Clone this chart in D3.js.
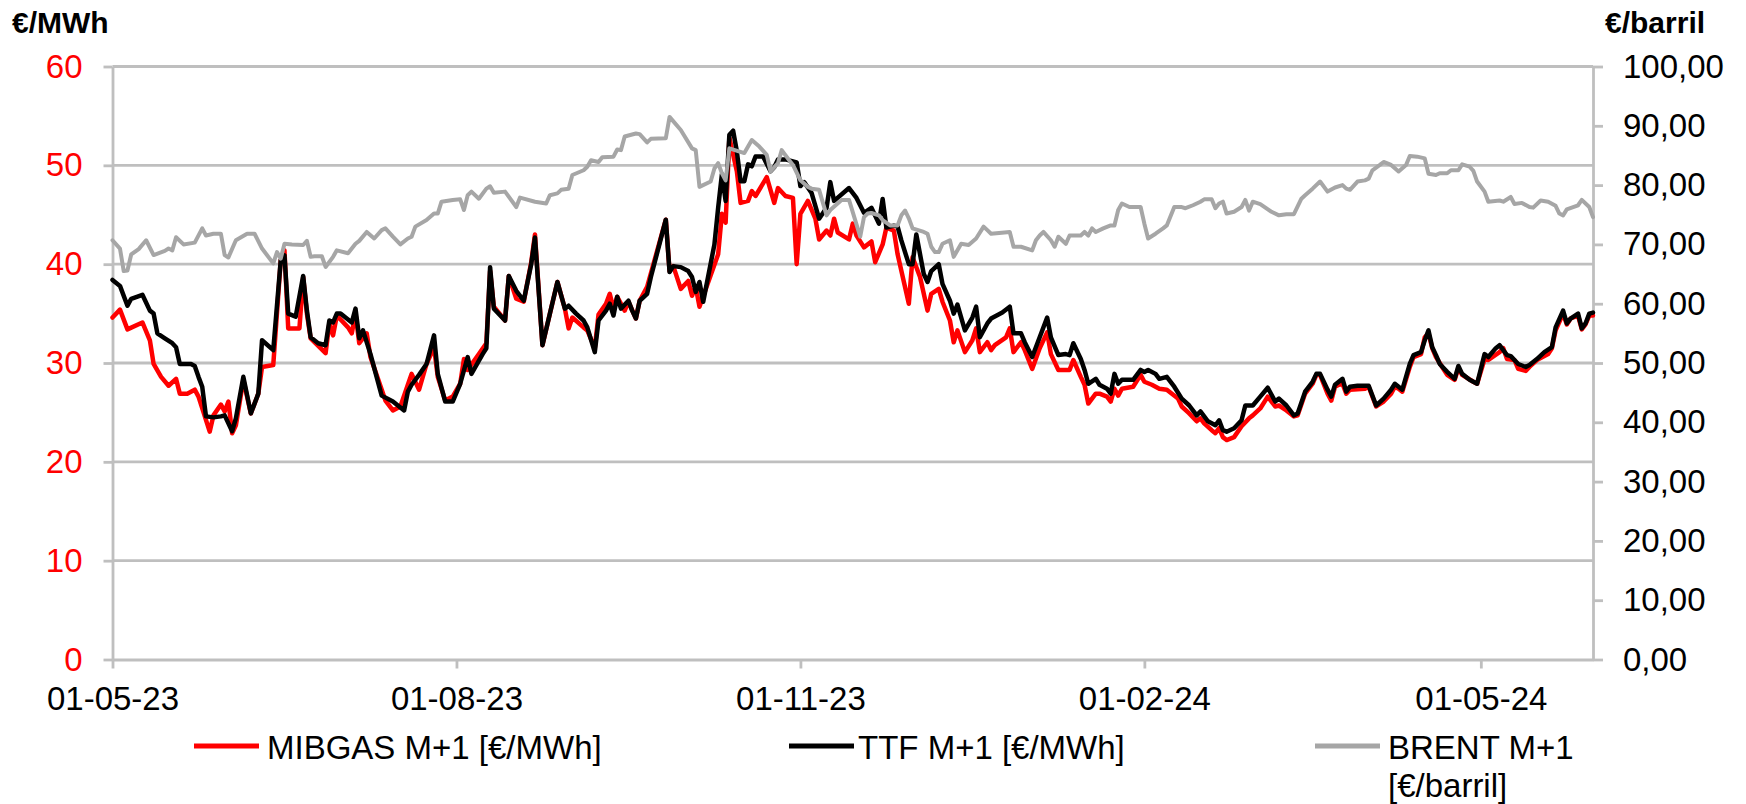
<!DOCTYPE html>
<html><head><meta charset="utf-8">
<script src="https://cdn.jsdelivr.net/npm/d3@7"></script>
<style>
html,body{margin:0;padding:0;background:#fff;}
svg{display:block;font-family:"Liberation Sans",Arial,sans-serif;}
</style></head><body>
<svg id="chart" width="1746" height="804"></svg>
<script>
// ---------------- DATA ----------------
const xTickDates = ["2023-05-01","2023-08-01","2023-11-01","2024-02-01","2024-05-01"];
const leftTicks = [0,10,20,30,40,50,60];
const rightTicks = [0,10,20,30,40,50,60,70,80,90,100];
const seriesNames = ["MIBGAS M+1 [€/MWh]","TTF M+1 [€/MWh]","BRENT M+1 [€/barril]"];

const mibgas = [
["2023-05-01",34.6],["2023-05-03",35.4],["2023-05-05",33.4],["2023-05-09",34.1],["2023-05-11",32.3],["2023-05-12",29.9],["2023-05-14",28.6],["2023-05-16",27.7],["2023-05-18",28.4],["2023-05-19",26.9],["2023-05-21",26.9],["2023-05-23",27.3],["2023-05-24",26.6],["2023-05-27",23.05],["2023-05-28",24.7],["2023-05-30",25.8],["2023-05-31",25.1],
["2023-06-01",26.1],["2023-06-02",22.9],["2023-06-03",23.7],["2023-06-05",28.3],["2023-06-07",24.9],["2023-06-09",26.9],["2023-06-10",29.6],["2023-06-13",29.8],["2023-06-15",40.4],["2023-06-16",41.4],["2023-06-17",33.5],["2023-06-20",33.5],["2023-06-21",38.7],["2023-06-22",35.0],["2023-06-23",32.5],["2023-06-27",31.0],["2023-06-28",34.0],["2023-06-29",32.8],["2023-06-30",34.8],
["2023-07-03",33.6],["2023-07-04",33.0],["2023-07-05",35.0],["2023-07-06",32.0],["2023-07-08",33.0],["2023-07-09",30.6],["2023-07-13",26.2],["2023-07-15",25.2],["2023-07-17",25.6],["2023-07-19",27.8],["2023-07-20",28.9],["2023-07-22",27.3],["2023-07-24",29.9],["2023-07-26",31.6],["2023-07-27",28.6],["2023-07-29",26.2],["2023-07-31",26.6],
["2023-08-02",27.9],["2023-08-03",30.4],["2023-08-04",29.3],["2023-08-07",30.9],["2023-08-09",32.0],["2023-08-10",39.3],["2023-08-11",35.7],["2023-08-14",34.3],["2023-08-15",38.8],["2023-08-17",36.5],["2023-08-19",36.2],["2023-08-21",40.2],["2023-08-22",43.0],["2023-08-24",31.8],["2023-08-26",35.0],["2023-08-28",38.2],["2023-08-30",35.5],["2023-08-31",33.5],
["2023-09-01",34.6],["2023-09-04",33.6],["2023-09-05",33.3],["2023-09-07",31.5],["2023-09-08",34.9],["2023-09-10",36.0],["2023-09-11",37.0],["2023-09-12",35.5],["2023-09-13",36.7],["2023-09-15",35.3],["2023-09-16",36.2],["2023-09-18",34.5],["2023-09-19",36.3],["2023-09-21",37.7],["2023-09-26",44.5],["2023-09-27",39.3],["2023-09-28",39.8],["2023-09-30",37.5],
["2023-10-02",38.3],["2023-10-03",36.8],["2023-10-04",37.7],["2023-10-05",35.7],["2023-10-10",41.0],["2023-10-11",45.1],["2023-10-12",44.2],["2023-10-13",52.8],["2023-10-15",49.4],["2023-10-16",46.2],["2023-10-18",46.4],["2023-10-19",47.4],["2023-10-20",46.9],["2023-10-23",48.8],["2023-10-25",46.2],["2023-10-26",47.7],["2023-10-28",46.9],["2023-10-30",46.7],["2023-10-31",40.0],
["2023-11-01",45.1],["2023-11-03",46.4],["2023-11-05",44.6],["2023-11-06",42.5],["2023-11-08",43.4],["2023-11-09",42.9],["2023-11-10",44.6],["2023-11-11",43.2],["2023-11-14",42.5],["2023-11-15",44.1],["2023-11-16",42.9],["2023-11-18",41.7],["2023-11-20",42.3],["2023-11-21",40.2],["2023-11-23",42.0],["2023-11-24",43.7],["2023-11-26",43.4],["2023-11-27",41.0],["2023-11-30",36.0],
["2023-12-01",40.7],["2023-12-03",38.7],["2023-12-04",37.0],["2023-12-05",35.3],["2023-12-06",37.0],["2023-12-08",37.5],["2023-12-09",36.2],["2023-12-11",34.3],["2023-12-12",32.1],["2023-12-13",33.3],["2023-12-15",31.1],["2023-12-17",32.3],["2023-12-18",33.5],["2023-12-19",31.1],["2023-12-21",32.1],["2023-12-22",31.3],["2023-12-23",31.8],["2023-12-26",32.6],["2023-12-27",33.5],["2023-12-28",31.1],["2023-12-30",32.1],["2023-12-31",31.3],
["2024-01-02",29.4],["2024-01-04",31.5],["2024-01-06",33.1],["2024-01-07",30.9],["2024-01-09",29.3],["2024-01-12",29.3],["2024-01-13",30.3],["2024-01-15",28.6],["2024-01-16",27.8],["2024-01-17",25.9],["2024-01-19",26.9],["2024-01-20",26.9],["2024-01-22",26.6],["2024-01-23",26.1],["2024-01-24",27.4],["2024-01-25",26.7],["2024-01-26",27.4],["2024-01-29",27.6],["2024-01-31",28.8],
["2024-02-01",28.1],["2024-02-03",27.8],["2024-02-05",27.4],["2024-02-07",27.3],["2024-02-10",26.4],["2024-02-11",25.6],["2024-02-13",24.9],["2024-02-15",24.1],["2024-02-16",24.4],["2024-02-17",23.9],["2024-02-19",23.2],["2024-02-20",22.9],["2024-02-21",23.4],["2024-02-22",22.5],["2024-02-23",22.2],["2024-02-25",22.5],["2024-02-27",23.6],["2024-02-29",24.4],
["2024-03-01",24.7],["2024-03-03",25.4],["2024-03-05",26.6],["2024-03-07",25.6],["2024-03-08",25.7],["2024-03-10",25.2],["2024-03-12",24.6],["2024-03-13",24.7],["2024-03-15",26.9],["2024-03-17",27.9],["2024-03-18",28.8],["2024-03-19",28.8],["2024-03-21",26.9],["2024-03-22",26.2],["2024-03-23",27.6],["2024-03-24",27.8],["2024-03-25",27.9],["2024-03-26",26.9],["2024-03-27",27.3],["2024-03-31",27.4],
["2024-04-01",27.6],["2024-04-03",25.6],["2024-04-05",26.1],["2024-04-07",26.9],["2024-04-08",27.6],["2024-04-09",27.4],["2024-04-10",27.1],["2024-04-12",29.6],["2024-04-13",30.6],["2024-04-15",30.9],["2024-04-16",32.6],["2024-04-17",33.0],["2024-04-18",31.5],["2024-04-19",30.6],["2024-04-21",29.4],["2024-04-22",28.8],["2024-04-24",28.3],["2024-04-25",29.5],["2024-04-26",28.8],["2024-04-29",28.1],["2024-04-30",27.9],
["2024-05-02",30.4],["2024-05-03",30.3],["2024-05-06",31.1],["2024-05-07",31.5],["2024-05-08",30.4],["2024-05-10",30.3],["2024-05-11",29.4],["2024-05-13",29.2],["2024-05-14",29.6],["2024-05-16",30.3],["2024-05-19",30.9],["2024-05-20",31.5],["2024-05-21",33.3],["2024-05-23",35.0],["2024-05-24",33.9],["2024-05-25",34.5],["2024-05-27",34.8],["2024-05-28",33.4],["2024-05-29",33.9],["2024-05-30",34.8],["2024-05-31",34.8]
];

const ttf = [
["2023-05-01",38.4],["2023-05-03",37.8],["2023-05-05",35.8],["2023-05-06",36.5],["2023-05-09",36.9],["2023-05-11",35.3],["2023-05-12",35.0],["2023-05-13",33.0],["2023-05-15",32.5],["2023-05-17",32.0],["2023-05-18",31.6],["2023-05-19",29.9],["2023-05-22",29.9],["2023-05-23",29.7],["2023-05-24",28.6],["2023-05-25",27.6],["2023-05-26",24.6],["2023-05-28",24.5],["2023-05-30",24.6],["2023-05-31",24.7],
["2023-06-02",23.1],["2023-06-03",24.4],["2023-06-05",28.6],["2023-06-07",24.9],["2023-06-09",26.9],["2023-06-10",32.3],["2023-06-13",31.3],["2023-06-15",40.4],["2023-06-16",40.9],["2023-06-17",35.0],["2023-06-19",34.7],["2023-06-21",38.8],["2023-06-22",35.3],["2023-06-23",32.6],["2023-06-25",32.0],["2023-06-27",31.8],["2023-06-28",34.3],["2023-06-29",34.1],["2023-06-30",35.0],
["2023-07-01",35.0],["2023-07-04",34.1],["2023-07-05",35.5],["2023-07-06",32.5],["2023-07-07",33.3],["2023-07-09",30.9],["2023-07-12",26.7],["2023-07-15",26.1],["2023-07-18",25.2],["2023-07-19",27.1],["2023-07-20",27.8],["2023-07-22",28.8],["2023-07-24",29.9],["2023-07-26",32.8],["2023-07-27",28.9],["2023-07-29",26.1],["2023-07-31",26.1],
["2023-08-02",27.9],["2023-08-04",30.6],["2023-08-05",28.9],["2023-08-08",30.9],["2023-08-09",31.5],["2023-08-10",39.7],["2023-08-11",35.5],["2023-08-14",34.3],["2023-08-15",38.8],["2023-08-17",37.3],["2023-08-19",36.3],["2023-08-21",40.0],["2023-08-22",42.7],["2023-08-24",31.8],["2023-08-26",35.0],["2023-08-28",38.2],["2023-08-30",35.5],["2023-08-31",35.8],
["2023-09-02",35.0],["2023-09-04",34.3],["2023-09-05",33.6],["2023-09-07",31.1],["2023-09-08",34.3],["2023-09-10",35.3],["2023-09-11",36.0],["2023-09-12",34.8],["2023-09-13",36.7],["2023-09-14",35.5],["2023-09-16",36.3],["2023-09-17",35.3],["2023-09-18",34.5],["2023-09-19",36.3],["2023-09-21",37.0],["2023-09-22",38.7],["2023-09-26",44.5],["2023-09-27",39.2],["2023-09-28",39.8],["2023-09-30",39.7],
["2023-10-02",39.3],["2023-10-03",38.7],["2023-10-04",37.2],["2023-10-05",38.2],["2023-10-06",36.2],["2023-10-09",42.0],["2023-10-10",45.7],["2023-10-11",49.1],["2023-10-12",46.4],["2023-10-13",53.1],["2023-10-14",53.5],["2023-10-15",51.4],["2023-10-16",48.4],["2023-10-17",48.4],["2023-10-18",50.1],["2023-10-19",49.9],["2023-10-20",50.9],["2023-10-22",50.9],["2023-10-24",49.4],["2023-10-25",49.8],["2023-10-26",50.6],["2023-10-28",50.6],["2023-10-31",50.3],
["2023-11-01",47.9],["2023-11-02",48.3],["2023-11-04",47.2],["2023-11-06",44.6],["2023-11-08",45.7],["2023-11-09",48.3],["2023-11-10",46.4],["2023-11-14",47.7],["2023-11-16",46.7],["2023-11-18",45.2],["2023-11-20",45.7],["2023-11-22",44.1],["2023-11-23",46.6],["2023-11-24",43.7],["2023-11-26",43.9],["2023-11-27",43.8],["2023-11-28",42.4],["2023-11-30",40.0],
["2023-12-01",40.0],["2023-12-02",43.0],["2023-12-03",41.0],["2023-12-04",39.0],["2023-12-05",38.2],["2023-12-06",39.3],["2023-12-08",40.0],["2023-12-09",38.0],["2023-12-11",36.3],["2023-12-12",35.0],["2023-12-13",35.9],["2023-12-15",33.3],["2023-12-17",34.6],["2023-12-18",35.7],["2023-12-19",32.6],["2023-12-21",34.0],["2023-12-22",34.5],["2023-12-25",35.1],["2023-12-27",35.7],["2023-12-28",33.0],["2023-12-30",33.0],["2023-12-31",32.1],
["2024-01-02",30.6],["2024-01-04",32.6],["2024-01-06",34.6],["2024-01-07",32.6],["2024-01-09",30.8],["2024-01-11",30.9],["2024-01-12",30.8],["2024-01-13",32.0],["2024-01-15",30.4],["2024-01-16",29.3],["2024-01-17",27.9],["2024-01-19",28.4],["2024-01-20",27.8],["2024-01-22",27.4],["2024-01-23",26.9],["2024-01-24",28.9],["2024-01-25",27.9],["2024-01-26",28.3],["2024-01-29",28.3],["2024-01-31",29.3],
["2024-02-01",29.1],["2024-02-02",29.3],["2024-02-04",28.9],["2024-02-05",28.4],["2024-02-07",28.6],["2024-02-09",27.6],["2024-02-11",26.4],["2024-02-13",25.7],["2024-02-15",24.7],["2024-02-16",25.1],["2024-02-17",24.6],["2024-02-18",24.1],["2024-02-20",23.7],["2024-02-21",24.2],["2024-02-22",23.2],["2024-02-23",23.05],["2024-02-25",23.4],["2024-02-27",24.2],["2024-02-28",25.7],
["2024-03-01",25.7],["2024-03-03",26.6],["2024-03-05",27.5],["2024-03-07",26.1],["2024-03-08",26.4],["2024-03-10",25.7],["2024-03-12",24.7],["2024-03-13",24.9],["2024-03-15",27.1],["2024-03-17",28.1],["2024-03-18",28.9],["2024-03-19",28.9],["2024-03-21",27.3],["2024-03-22",26.6],["2024-03-23",27.8],["2024-03-24",28.1],["2024-03-25",28.4],["2024-03-26",27.1],["2024-03-27",27.6],["2024-03-29",27.7],
["2024-04-01",27.7],["2024-04-03",25.7],["2024-04-05",26.4],["2024-04-07",27.3],["2024-04-08",27.9],["2024-04-09",27.6],["2024-04-10",27.3],["2024-04-12",29.9],["2024-04-13",30.8],["2024-04-15",31.1],["2024-04-16",32.3],["2024-04-17",33.3],["2024-04-18",31.6],["2024-04-19",30.8],["2024-04-20",29.9],["2024-04-22",29.1],["2024-04-24",28.4],["2024-04-25",29.7],["2024-04-26",28.9],["2024-04-28",28.3],["2024-04-30",27.9],
["2024-05-02",30.9],["2024-05-03",30.6],["2024-05-05",31.5],["2024-05-06",31.8],["2024-05-08",30.8],["2024-05-09",30.7],["2024-05-11",29.9],["2024-05-13",29.6],["2024-05-14",29.8],["2024-05-16",30.4],["2024-05-18",31.1],["2024-05-20",31.6],["2024-05-21",33.6],["2024-05-23",35.3],["2024-05-24",34.0],["2024-05-25",34.5],["2024-05-27",35.0],["2024-05-28",33.5],["2024-05-29",34.0],["2024-05-30",35.0],["2024-05-31",35.1]
];

const brent = [
["2023-05-01",70.7],["2023-05-03",69.3],["2023-05-04",65.5],["2023-05-05",65.6],["2023-05-06",68.3],["2023-05-08",69.2],["2023-05-10",70.7],["2023-05-12",68.2],["2023-05-15",68.9],["2023-05-16",69.3],["2023-05-17",69.0],["2023-05-18",71.2],["2023-05-20",70.0],["2023-05-23",70.3],["2023-05-25",72.7],["2023-05-26",71.5],["2023-05-28",71.8],["2023-05-30",71.8],["2023-05-31",68.2],
["2023-06-01",67.8],["2023-06-03",70.7],["2023-06-06",71.8],["2023-06-08",71.8],["2023-06-10",69.3],["2023-06-13",66.8],["2023-06-14",68.7],["2023-06-15",67.6],["2023-06-16",70.1],["2023-06-18",70.0],["2023-06-21",69.9],["2023-06-22",70.6],["2023-06-23",67.9],["2023-06-24",68.0],["2023-06-26",68.0],["2023-06-27",66.2],["2023-06-29",67.9],["2023-06-30",69.0],
["2023-07-03",68.5],["2023-07-05",70.1],["2023-07-06",70.6],["2023-07-08",72.1],["2023-07-10",71.0],["2023-07-12",72.4],["2023-07-13",72.7],["2023-07-15",71.3],["2023-07-17",70.0],["2023-07-19",71.0],["2023-07-20",71.3],["2023-07-21",73.0],["2023-07-24",74.1],["2023-07-26",75.2],["2023-07-27",75.2],["2023-07-28",77.2],["2023-07-31",77.5],
["2023-08-02",77.6],["2023-08-03",75.8],["2023-08-04",78.3],["2023-08-05",78.9],["2023-08-07",77.7],["2023-08-09",79.4],["2023-08-10",79.8],["2023-08-11",78.7],["2023-08-14",78.9],["2023-08-17",76.3],["2023-08-18",77.9],["2023-08-22",77.2],["2023-08-25",76.9],["2023-08-26",78.3],["2023-08-28",78.6],["2023-08-29",79.2],["2023-08-31",79.4],
["2023-09-01",81.7],["2023-09-04",82.5],["2023-09-05",83.1],["2023-09-06",84.2],["2023-09-08",83.9],["2023-09-09",84.7],["2023-09-12",84.8],["2023-09-13",86.0],["2023-09-14",85.9],["2023-09-15",88.2],["2023-09-18",88.7],["2023-09-19",88.6],["2023-09-21",87.2],["2023-09-22",87.8],["2023-09-26",87.9],["2023-09-27",91.5],["2023-09-30",89.3],
["2023-10-03",86.2],["2023-10-04",85.9],["2023-10-05",79.7],["2023-10-08",80.6],["2023-10-09",82.8],["2023-10-10",83.7],["2023-10-11",82.0],["2023-10-12",80.8],["2023-10-13",86.2],["2023-10-17",85.4],["2023-10-19",87.6],["2023-10-21",86.5],["2023-10-23",85.1],["2023-10-24",82.3],["2023-10-26",83.7],["2023-10-27",85.9],["2023-10-29",84.2],["2023-10-30",83.4],
["2023-11-01",80.8],["2023-11-03",79.7],["2023-11-04",79.4],["2023-11-06",79.2],["2023-11-08",74.9],["2023-11-09",75.8],["2023-11-12",77.5],["2023-11-14",77.5],["2023-11-17",71.3],["2023-11-18",74.6],["2023-11-19",75.2],["2023-11-20",75.3],["2023-11-22",74.9],["2023-11-23",74.1],["2023-11-25",73.2],["2023-11-27",73.2],["2023-11-28",74.9],["2023-11-29",75.7],["2023-11-30",74.4],
["2023-12-01",72.7],["2023-12-04",72.1],["2023-12-05",71.8],["2023-12-06",69.6],["2023-12-07",68.7],["2023-12-08",68.7],["2023-12-09",70.1],["2023-12-11",70.7],["2023-12-12",67.9],["2023-12-14",70.1],["2023-12-16",69.9],["2023-12-18",71.0],["2023-12-20",73.0],["2023-12-21",72.4],["2023-12-22",71.8],["2023-12-27",72.1],["2023-12-28",69.6],["2023-12-30",69.6],
["2024-01-02",69.0],["2024-01-03",70.7],["2024-01-04",71.5],["2024-01-05",72.1],["2024-01-07",70.7],["2024-01-08",69.6],["2024-01-09",71.3],["2024-01-11",70.1],["2024-01-12",71.5],["2024-01-15",71.5],["2024-01-16",72.1],["2024-01-17",71.5],["2024-01-18",72.7],["2024-01-19",72.1],["2024-01-21",72.7],["2024-01-23",73.2],["2024-01-24",73.2],["2024-01-25",75.8],["2024-01-26",76.9],["2024-01-28",76.3],["2024-01-31",76.3],
["2024-02-01",73.5],["2024-02-02",71.0],["2024-02-04",71.8],["2024-02-06",72.7],["2024-02-07",73.2],["2024-02-09",76.3],["2024-02-11",76.3],["2024-02-12",76.1],["2024-02-14",76.6],["2024-02-16",77.2],["2024-02-17",77.6],["2024-02-19",77.6],["2024-02-20",76.1],["2024-02-21",76.9],["2024-02-22",77.2],["2024-02-23",75.2],["2024-02-25",75.5],["2024-02-27",76.3],["2024-02-28",77.5],["2024-02-29",75.7],
["2024-03-01",77.2],["2024-03-03",76.8],["2024-03-06",75.5],["2024-03-08",74.9],["2024-03-10",75.1],["2024-03-12",75.1],["2024-03-14",77.7],["2024-03-15",78.3],["2024-03-17",79.4],["2024-03-19",80.6],["2024-03-21",78.9],["2024-03-23",79.6],["2024-03-25",80.0],["2024-03-26",79.4],["2024-03-27",79.2],["2024-03-29",80.6],["2024-03-31",80.8],
["2024-04-01",81.1],["2024-04-02",82.5],["2024-04-04",83.4],["2024-04-05",83.9],["2024-04-07",83.4],["2024-04-09",82.3],["2024-04-11",83.4],["2024-04-12",84.9],["2024-04-14",84.8],["2024-04-16",84.5],["2024-04-17",81.9],["2024-04-19",81.7],["2024-04-20",82.0],["2024-04-22",82.0],["2024-04-23",82.5],["2024-04-25",82.5],["2024-04-26",83.5],["2024-04-28",83.1],["2024-04-29",82.4],["2024-04-30",80.6],
["2024-05-02",78.9],["2024-05-03",77.2],["2024-05-06",77.4],["2024-05-07",77.2],["2024-05-09",78.0],["2024-05-10",76.8],["2024-05-12",77.0],["2024-05-14",76.3],["2024-05-15",76.2],["2024-05-17",77.4],["2024-05-19",77.2],["2024-05-21",76.5],["2024-05-22",75.2],["2024-05-23",74.9],["2024-05-24",75.9],["2024-05-27",76.6],["2024-05-28",77.5],["2024-05-30",76.3],["2024-05-31",74.6]
];

// ---------------- CHART ----------------
const X0 = 112.5, X1 = 1593, Y0 = 659.5, Y1 = 66.5;
const GRID = "#bfbfbf", FS = 33;
const parse = d3.utcParse("%Y-%m-%d");
const svg = d3.select("#chart");

const x = d3.scaleUtc().domain([parse("2023-05-01"), parse("2024-05-31")]).range([X0, X1]);
const yL = d3.scaleLinear().domain([0, 60]).range([Y0, Y1]);
const yR = d3.scaleLinear().domain([0, 100]).range([Y0, Y1]);
const esLocale = d3.formatLocale({decimal: ",", thousands: ".", grouping: [3], currency: ["", " €"]});
const fmtR = esLocale.format(".2f");

// gridlines
svg.append("g").selectAll("line").data(leftTicks.filter(v => v > 0)).join("line")
  .attr("x1", X0).attr("x2", X1).attr("y1", d => yL(d)).attr("y2", d => yL(d))
  .attr("stroke", GRID).attr("stroke-width", 2.8);

function styleAxis(g, color) {
  g.selectAll(".domain").attr("stroke", GRID).attr("stroke-width", 2.8);
  g.selectAll(".tick line").attr("stroke", GRID).attr("stroke-width", 2.8);
  g.selectAll("text").attr("font-size", FS).attr("fill", color)
    .attr("font-family", '"Liberation Sans", Arial, sans-serif');
}

// left axis
const gL = svg.append("g").attr("transform", `translate(${X0},0)`)
  .call(d3.axisLeft(yL).tickValues(leftTicks).tickSize(9).tickSizeOuter(0).tickPadding(21).tickFormat(d3.format("d")));
styleAxis(gL, "#ff0000");

// right axis
const gR = svg.append("g").attr("transform", `translate(${X1},0)`)
  .call(d3.axisRight(yR).tickValues(rightTicks).tickSize(10).tickSizeOuter(0).tickPadding(20).tickFormat(fmtR));
styleAxis(gR, "#000");

// bottom axis
const gB = svg.append("g").attr("transform", `translate(0,${Y0})`)
  .call(d3.axisBottom(x).tickValues(xTickDates.map(parse)).tickSize(9).tickSizeOuter(0).tickPadding(18).tickFormat(d3.utcFormat("%d-%m-%y")));
styleAxis(gB, "#000");

// lines
const lineL = d3.line().x(d => x(parse(d[0]))).y(d => yL(d[1])).curve(d3.curveLinear);
const lineR = d3.line().x(d => x(parse(d[0]))).y(d => yR(d[1])).curve(d3.curveLinear);
const colors = ["#ff0000", "#000000", "#a6a6a6"];

svg.append("path").datum(mibgas).attr("d", lineL).attr("fill", "none")
  .attr("stroke", colors[0]).attr("stroke-width", 4.5).attr("stroke-linejoin", "round").attr("stroke-linecap", "round");
svg.append("path").datum(ttf).attr("d", lineL).attr("fill", "none")
  .attr("stroke", colors[1]).attr("stroke-width", 4.5).attr("stroke-linejoin", "round").attr("stroke-linecap", "round");
svg.append("path").datum(brent).attr("d", lineR).attr("fill", "none")
  .attr("stroke", colors[2]).attr("stroke-width", 4).attr("stroke-linejoin", "round").attr("stroke-linecap", "round");

// axis titles
svg.append("text").attr("x", 12).attr("y", 33).attr("font-size", 30).attr("font-weight", "bold").attr("fill", "#000").text("€/MWh");
svg.append("text").attr("x", 1605).attr("y", 33).attr("font-size", 30).attr("font-weight", "bold").attr("fill", "#000").text("€/barril");

// legend
const legend = [
  {name: seriesNames[0], color: colors[0], lx: 194, tx: 267, lines: [seriesNames[0]]},
  {name: seriesNames[1], color: colors[1], lx: 789, tx: 858, lines: [seriesNames[1]]},
  {name: seriesNames[2], color: colors[2], lx: 1315, tx: 1388, lines: ["BRENT M+1", "[€/barril]"]}
];
const lg = svg.append("g").selectAll("g").data(legend).join("g");
lg.append("line").attr("x1", d => d.lx).attr("x2", d => d.lx + 65).attr("y1", 746).attr("y2", 746)
  .attr("stroke", d => d.color).attr("stroke-width", 5);
lg.each(function(d) {
  const t = d3.select(this).append("text").attr("x", d.tx).attr("y", 759).attr("font-size", FS).attr("fill", "#000");
  d.lines.forEach((s, i) => t.append("tspan").attr("x", d.tx).attr("dy", i === 0 ? 0 : 38).text(s));
});
</script>
</body></html>
